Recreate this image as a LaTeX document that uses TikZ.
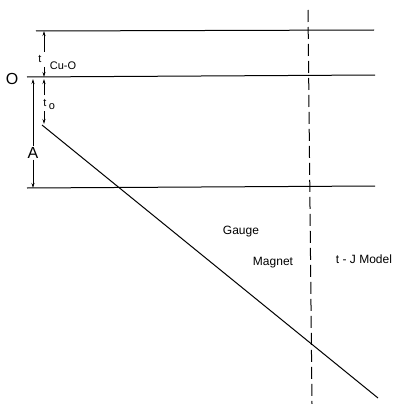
\documentclass[tikz,border=0pt]{standalone}
\usepackage{fontspec}
\setmainfont{Liberation Sans}
\usetikzlibrary{arrows.meta}
\begin{document}
\begin{tikzpicture}[x=1pt,y=-1pt,
  level/.style={line width=1pt},
  dim/.style={line width=0.8pt,-{Stealth[length=5pt,width=3pt]}},
  lbl/.style={font=\fontsize{12}{14}\selectfont,inner sep=1pt},
  sml/.style={font=\fontsize{11}{13}\selectfont,inner sep=1pt},
  big/.style={font=\fontsize{16}{18}\selectfont,inner sep=1pt}]
\useasboundingbox (0,0) rectangle (396,404);
% levels
\coordinate (t1) at (36,31); \coordinate (t2) at (374,30);
\coordinate (o1) at (27,77); \coordinate (o2) at (375,75);
\coordinate (b1) at (27,188); \coordinate (b2) at (375,186);
\draw[level] (t1) -- (t2);
\draw[level] (o1) -- (o2);
\draw[level] (b1) -- (b2);
% dashed t-J boundary
\coordinate (d1) at (308,10); \coordinate (d2) at (312,404);
\draw[line width=1pt,dash pattern=on 12pt off 5pt] (d1) -- (d2);
% diagonal
\coordinate (g1) at (42,125); \coordinate (g2) at (378,398);
\draw[line width=1pt] (g1) -- (g2);
% labels
\node[big] (O) at (12,79) {O};
\node[big] (A) at (33,153) {A};
\node[sml] (tcu) at (40,59) {t};
\node[sml] (cuo) at (63,66) {Cu-O};
\node[sml] (tt) at (45,103) {t};
\node[sml] (to) at (52,107) {o};
\node[lbl] (gauge) at (241,232) {Gauge};
\node[lbl] (magnet) at (273,263) {Magnet};
\node[lbl] (tj) at (364,259) {t - J Model};
% dimension arrows
\coordinate (a1) at (44,31); \coordinate (a2) at (44,77);
\coordinate (a3) at (44,79); \coordinate (a4) at (44,124);
\coordinate (a5) at (33,79); \coordinate (a6) at (33,188);
\draw[dim] (44,52) -- (a1);
\draw[dim] (44,67) -- (a2);
\draw[dim] (44,95) -- (a3);
\draw[dim] (44,111) -- (a4);
\draw[dim] (A.north) -- (a5);
\draw[dim] (A.south) -- (a6);
\end{tikzpicture}
\end{document}
